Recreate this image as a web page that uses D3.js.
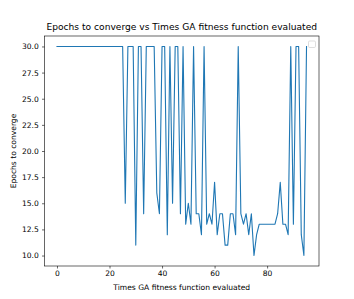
<!DOCTYPE html>
<html>
<head>
<meta charset="utf-8">
<script src="https://cdn.jsdelivr.net/npm/d3@7"></script>
<style>
  html, body { margin: 0; padding: 0; background: #fff; }
  svg { display: block; font-family: "DejaVu Sans", sans-serif; }
</style>
</head>
<body>
<svg id="chart" width="354" height="299"></svg>
<script>
// Data
const timesEvaluated = d3.range(0, 96);
const epochsToConverge = [
  30,30,30,30,30,30,30,30,30,30,
  30,30,30,30,30,30,30,30,30,30,
  30,30,30,30,30,30,15,30,30,30,
  11,30,30,14,30,30,30,30,16,14,
  30,30,12,30,15,30,30,14,30,13,
  15,13,30,14,14,12,30,13,14,13,
  17,12,14,14,11,11,14,14,12,30,
  14,13,14,12,14,10,12,13,13,13,
  13,13,13,13,14,17,13,13,12,30,
  13,30,30,12,10,30
];
const xTicks = [0, 20, 40, 60, 80];
const yTicks = [10, 12.5, 15, 17.5, 20, 22.5, 25, 27.5, 30];
const titleText = "Epochs to converge vs Times GA fitness function evaluated";
const xLabelText = "Times GA fitness function evaluated";
const yLabelText = "Epochs to converge";

const svg = d3.select("#chart");
const L = 44.5, R = 319, T = 36, B = 266;

const x = d3.scaleLinear().domain([-4.75, 99.75]).range([L, R]);
const y = d3.scaleLinear().domain([9, 31]).range([B, T]);

// fit a text element's font size to a target width
function fitWidth(sel, target) {
  sel.style("font-size", "10px");
  const w = sel.node().getComputedTextLength();
  const size = 10 * target / w;
  sel.style("font-size", size + "px");
  return size;
}

// title
const title = svg.append("text")
  .attr("x", (L + R) / 2).attr("y", 29.5)
  .attr("text-anchor", "middle")
  .attr("fill", "#000")
  .text(titleText);
fitWidth(title, 271);

// x label
const xl = svg.append("text")
  .attr("x", (L + R) / 2).attr("y", 290)
  .attr("text-anchor", "middle")
  .attr("fill", "#000")
  .text(xLabelText);
const fs = fitWidth(xl, 137);

// y label
svg.append("text")
  .attr("transform", `translate(15.5,${(T + B) / 2}) rotate(-90)`)
  .attr("text-anchor", "middle")
  .style("font-size", fs + "px")
  .attr("fill", "#000")
  .text(yLabelText);

// line
const line = d3.line().x((d, i) => x(timesEvaluated[i])).y(d => y(d));
svg.append("path")
  .datum(epochsToConverge)
  .attr("d", line)
  .attr("fill", "none")
  .attr("stroke", "#1f77b4")
  .attr("stroke-width", 1.1)
  .attr("stroke-linejoin", "round")
  .attr("stroke-linecap", "square");

// axes
const xAxis = d3.axisBottom(x).tickValues(xTicks).tickFormat(d3.format("d")).tickSize(2.5).tickPadding(2.5);
const yAxis = d3.axisLeft(y).tickValues(yTicks).tickFormat(d3.format(".1f")).tickSize(2.5).tickPadding(3.2);

const gx = svg.append("g").attr("transform", `translate(0,${B})`).call(xAxis);
const gy = svg.append("g").attr("transform", `translate(${L},0)`).call(yAxis);
[gx, gy].forEach(g => {
  g.select(".domain").remove();
  g.selectAll(".tick line").attr("stroke", "#000").attr("stroke-width", 0.6);
  g.selectAll(".tick text").attr("fill", "#000").style("font-size", fs + "px")
    .style("font-family", "'DejaVu Sans', sans-serif");
});

// frame
svg.append("rect")
  .attr("x", L).attr("y", T).attr("width", R - L).attr("height", B - T)
  .attr("fill", "none").attr("stroke", "#000").attr("stroke-width", 0.6);

// empty legend box
svg.append("rect")
  .attr("x", 308.5).attr("y", 41).attr("width", 7).attr("height", 6.5)
  .attr("rx", 1.2)
  .attr("fill", "#fff").attr("fill-opacity", 0.8)
  .attr("stroke", "#d0d0d0").attr("stroke-width", 0.7);
</script>
</body>
</html>
